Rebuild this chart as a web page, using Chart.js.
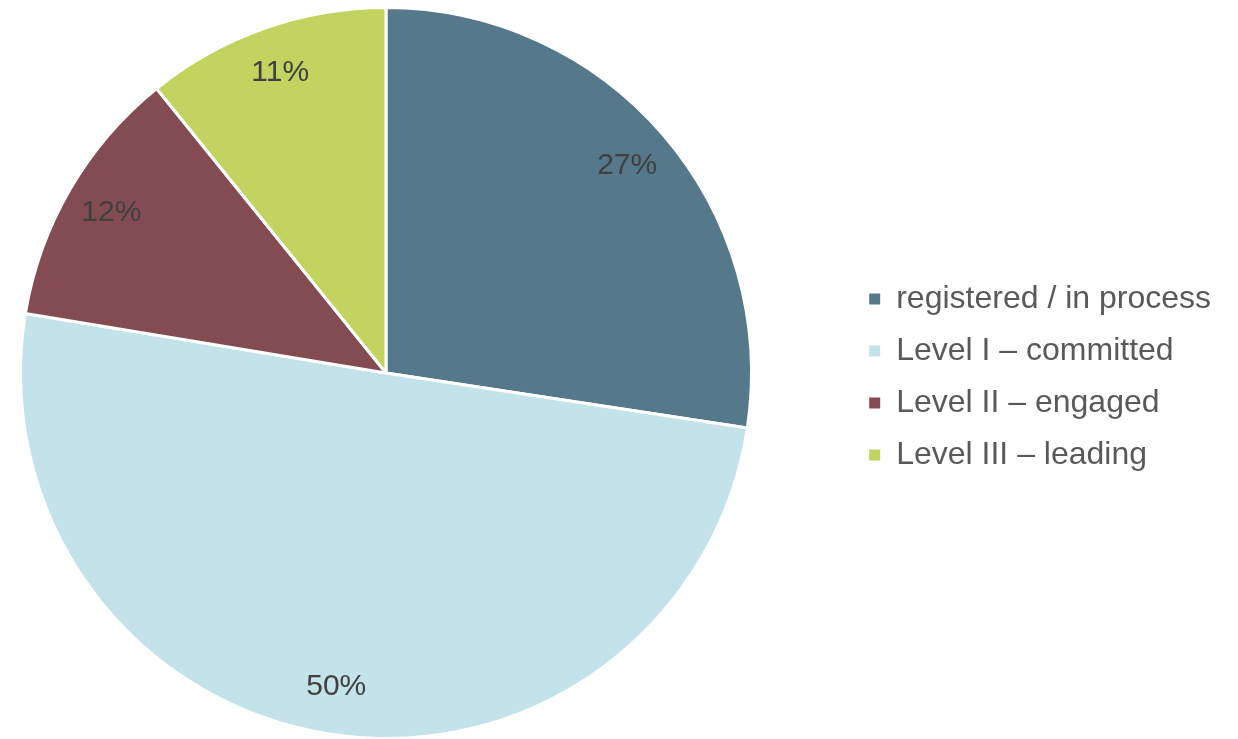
<!DOCTYPE html>
<html><head><meta charset="utf-8">
<script src="https://cdn.jsdelivr.net/npm/chart.js@4"></script>
<style>html,body{margin:0;padding:0;background:#fff;}#wrap{width:1238px;height:739px;position:relative;}</style>
</head><body><div id="wrap"><canvas id="c"></canvas></div>
<script>
const categories = ["registered / in process", "Level I \u2013 committed", "Level II \u2013 engaged", "Level III \u2013 leading"];
const values = [27.4, 50.2, 11.6, 10.8];
const colors = ["#56788B", "#C3E2E9", "#834C53", "#C2D360"];

const labelPlugin = {
  id: 'pctLabels',
  afterLayout(chart) {
    // keep the pie in the left part of the canvas, legend on the right
    const a = chart.chartArea;
    a.left = 19; a.top = 6; a.right = 753; a.bottom = 740;
    a.width = a.right - a.left; a.height = a.bottom - a.top;
  },
  afterDatasetsDraw(chart) {
    const ctx = chart.ctx;
    const meta = chart.getDatasetMeta(0);
    const total = values.reduce((a, b) => a + b, 0);
    ctx.save();
    ctx.font = '30px "Liberation Sans", Arial, sans-serif';
    ctx.fillStyle = '#404040';
    ctx.textAlign = 'center';
    ctx.textBaseline = 'middle';
    meta.data.forEach((arc, i) => {
      const p = arc.getProps(['x', 'y', 'startAngle', 'endAngle', 'outerRadius'], true);
      const a = (p.startAngle + p.endAngle) / 2;
      const r = p.outerRadius * 0.87;
      ctx.fillText(Math.round(values[i] / total * 100) + '%', p.x + Math.cos(a) * r, p.y + Math.sin(a) * r);
    });
    ctx.restore();
  }
};

const defaultGen = Chart.overrides.pie.plugins.legend.labels.generateLabels;

new Chart(document.getElementById('c'), {
  type: 'pie',
  data: { labels: categories, datasets: [{ data: values, backgroundColor: colors, borderColor: '#ffffff', borderWidth: 3 }] },
  options: {
    responsive: true, maintainAspectRatio: false, animation: false,
    layout: { padding: { left: 18, top: 15, bottom: 0, right: 17 } },
    plugins: {
      tooltip: { enabled: false },
      legend: {
        position: 'right',
        labels: {
          boxWidth: 11, boxHeight: 11, padding: 20,
          color: '#595959',
          font: { family: '"Liberation Sans", Arial, sans-serif', size: 32 },
          generateLabels(chart) {
            return defaultGen(chart).map(l => Object.assign(l, { lineWidth: 0, strokeStyle: l.fillStyle }));
          }
        }
      }
    }
  },
  plugins: [labelPlugin]
});
</script></body></html>
